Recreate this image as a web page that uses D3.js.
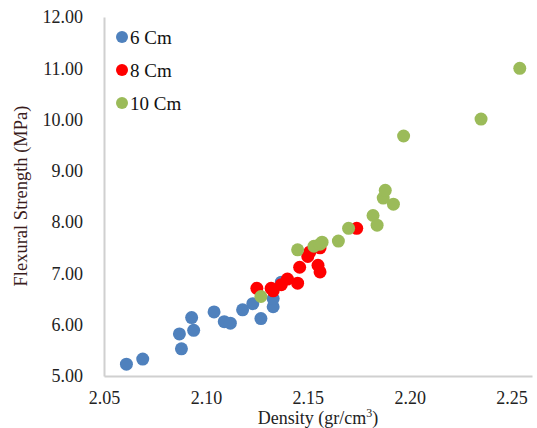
<!DOCTYPE html>
<meta charset="utf-8">
<head>
<script src="https://d3js.org/d3.v7.min.js"></script>
<style>
  body { margin: 0; background: #fff; }
  svg text { font-family: "Liberation Serif", "Times New Roman", "DejaVu Serif", serif !important; }
</style>
</head>
<body>
<div id="chart"></div>
<script>
// series: [density, flexural strength]
var cm6 = [[2.061,5.23],[2.069,5.33],[2.088,5.53],[2.087,5.82],[2.093,6.14],[2.094,5.89],
           [2.104,6.25],[2.109,6.06],[2.112,6.03],[2.118,6.29],[2.123,6.41],[2.127,6.12],
           [2.133,6.35],[2.133,6.51],[2.137,6.83]];
var cm8 = [[2.125,6.71],[2.132,6.71],[2.133,6.66],[2.137,6.78],[2.140,6.89],[2.145,6.81],
           [2.146,7.12],[2.150,7.33],[2.151,7.42],[2.155,7.16],[2.156,7.03],[2.156,7.50],
           [2.174,7.88]];
var cm10 = [[2.127,6.55],[2.145,7.46],[2.153,7.53],[2.156,7.57],[2.157,7.61],[2.165,7.63],
            [2.170,7.88],[2.182,8.13],[2.184,7.94],[2.187,8.47],[2.188,8.62],[2.192,8.35],
            [2.197,9.68],[2.235,10.01],[2.254,11.00]];
var seriesNames = ["6 Cm", "8 Cm", "10 Cm"];
var seriesColors = ["#4F81BD", "#FF0000", "#9BBB59"];
var xTicks = [2.05, 2.10, 2.15, 2.20, 2.25];
var yTicks = [5, 6, 7, 8, 9, 10, 11, 12];

var W = 537, H = 428;
var margin = {top: 17, right: 5, bottom: 52, left: 104};
var serif = "'Liberation Serif', 'Times New Roman', serif";

var svg = d3.select("#chart").append("svg")
  .attr("width", W).attr("height", H)
  .attr("font-family", serif);

var x = d3.scaleLinear().domain([2.05, 2.26]).range([margin.left, W - margin.right]);
var y = d3.scaleLinear().domain([5, 12]).range([H - margin.bottom, margin.top]);

// axes (no ticks, gray lines)
var xAxis = svg.append("g")
  .attr("transform", "translate(0," + y(5) + ")")
  .call(d3.axisBottom(x).tickValues(xTicks).tickSize(0).tickPadding(15).tickFormat(d3.format(".2f")))
  .attr("font-family", serif).attr("font-size", 18);
xAxis.select(".domain").attr("stroke", "#D0D0D0").attr("stroke-width", 2);
xAxis.selectAll("text").attr("fill", "#222");

var yAxis = svg.append("g")
  .attr("transform", "translate(" + x(2.05) + ",0)")
  .call(d3.axisLeft(y).tickValues(yTicks).tickSize(0).tickPadding(21).tickFormat(d3.format(".2f")))
  .attr("font-family", serif).attr("font-size", 18);
yAxis.select(".domain").attr("stroke", "#D0D0D0").attr("stroke-width", 2);
yAxis.selectAll("text").attr("fill", "#222");

// points
[cm6, cm8, cm10].forEach(function(data, i) {
  svg.append("g").selectAll("circle")
    .data(data).enter().append("circle")
      .attr("cx", function(d) { return x(d[0]); })
      .attr("cy", function(d) { return y(d[1]); })
      .attr("r", 6.5)
      .attr("fill", seriesColors[i]);
});

// legend
var legend = svg.append("g");
seriesNames.forEach(function(name, i) {
  var cy = 37 + i * 33;
  legend.append("circle").attr("cx", 122).attr("cy", cy).attr("r", 6).attr("fill", seriesColors[i]);
  legend.append("text").attr("x", 130).attr("y", cy + 6.5)
    .attr("font-size", "19px").attr("fill", "#111").text(name);
});

// axis titles
var xt = svg.append("text")
  .attr("x", 318).attr("y", 424)
  .attr("text-anchor", "middle")
  .attr("font-size", "18px").attr("fill", "#222");
xt.append("tspan").text("Density (gr/cm");
xt.append("tspan").attr("font-size", "12px").attr("dy", -7).text("3");
xt.append("tspan").attr("dy", 7).text(")");

svg.append("text")
  .attr("transform", "translate(27,196) rotate(-90)")
  .attr("text-anchor", "middle")
  .attr("font-size", "18.5px").attr("fill", "#3a1c1c")
  .text("Flexural Strength (MPa)");
</script>
</body>
